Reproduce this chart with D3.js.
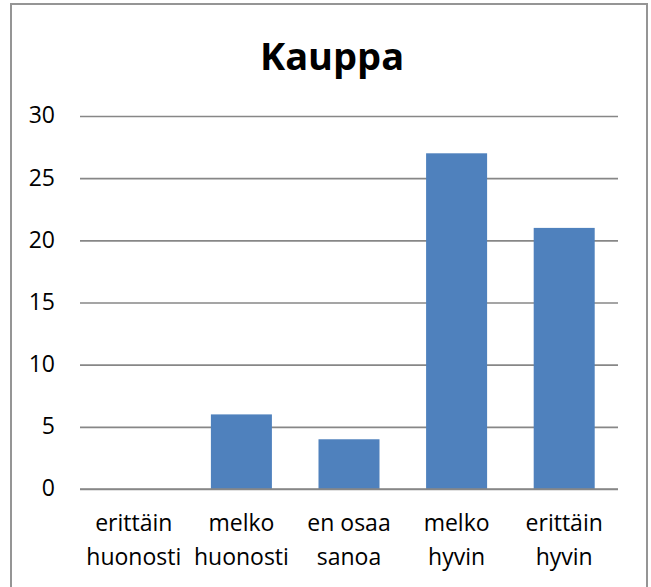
<!DOCTYPE html>
<meta charset="utf-8">
<script src="https://d3js.org/d3.v7.min.js"></script>
<style>
  body { margin: 0; background: #fff; }
  text { font-family: "Open Sans", Calibri, sans-serif; fill: #000; }
</style>
<body>
<div id="chart"></div>
<script>
  // data
  var categories = [["erittäin", "huonosti"], ["melko", "huonosti"], ["en osaa", "sanoa"], ["melko", "hyvin"], ["erittäin", "hyvin"]];
  var values = [0, 6, 4, 27, 21];
  var yTicks = [0, 5, 10, 15, 20, 25, 30];
  var title = "Kauppa";

  var W = 651, H = 587;
  var plot = {left: 80, right: 618, top: 116, bottom: 489};

  const svg = d3.select("#chart")
    .append("svg")
      .attr("width", W)
      .attr("height", H);

  // chart frame
  svg.append("rect")
    .attr("x", 11).attr("y", 4)
    .attr("width", 636).attr("height", 590)
    .attr("fill", "#fff")
    .attr("stroke", "#959595")
    .attr("stroke-width", 2);

  svg.append("text")
    .attr("x", 332).attr("y", 70)
    .attr("text-anchor", "middle")
    .style("font-size", "38px")
    .style("font-weight", "bold")
    .text(title);

  var data = categories.map(function(c, i) { return {key: c.join(" "), lines: c, value: values[i]}; });

  const x = d3.scaleBand()
    .domain(data.map(function(d) { return d.key; }))
    .range([plot.left, plot.right])
    .paddingInner(0.433)
    .paddingOuter(0.2165);

  const y = d3.scaleLinear()
    .domain([0, 30])
    .range([plot.bottom, plot.top]);

  // gridlines + y labels
  const yAxis = svg.append("g")
    .attr("transform", `translate(${plot.left},0)`)
    .call(d3.axisLeft(y).tickValues(yTicks).tickSize(-(plot.right - plot.left)).tickPadding(25));
  yAxis.select(".domain").remove();
  yAxis.selectAll(".tick line").attr("stroke", "#878787").attr("stroke-width", 1.6);
  yAxis.selectAll(".tick text")
    .style("font-size", "23px")
    .style("font-family", "'Open Sans', sans-serif")
    .attr("fill", "#000")
    .attr("dy", "0.3em");

  svg.selectAll(".bar")
    .data(data)
    .join("rect")
      .attr("class", "bar")
      .attr("x", function(d) { return x(d.key); })
      .attr("width", x.bandwidth())
      .attr("y", function(d) { return y(d.value); })
      .attr("height", function(d) { return y(0) - y(d.value); })
      .attr("fill", "#4f81bd");

  // redraw baseline on top of bars
  svg.append("line")
    .attr("x1", plot.left).attr("x2", plot.right)
    .attr("y1", y(0)).attr("y2", y(0))
    .attr("stroke", "#878787").attr("stroke-width", 1.6);

  // category labels, two lines each
  const lab = svg.selectAll(".cat")
    .data(data)
    .join("text")
      .attr("class", "cat")
      .attr("text-anchor", "middle")
      .style("font-size", "23px")
      .attr("transform", function(d) { return `translate(${x(d.key) + x.bandwidth() / 2},531)`; });
  lab.selectAll("tspan")
    .data(function(d) { return d.lines; })
    .join("tspan")
      .attr("x", 0)
      .attr("y", function(d, i) { return i * 34; })
      .text(function(d) { return d; });
</script>
</body>
